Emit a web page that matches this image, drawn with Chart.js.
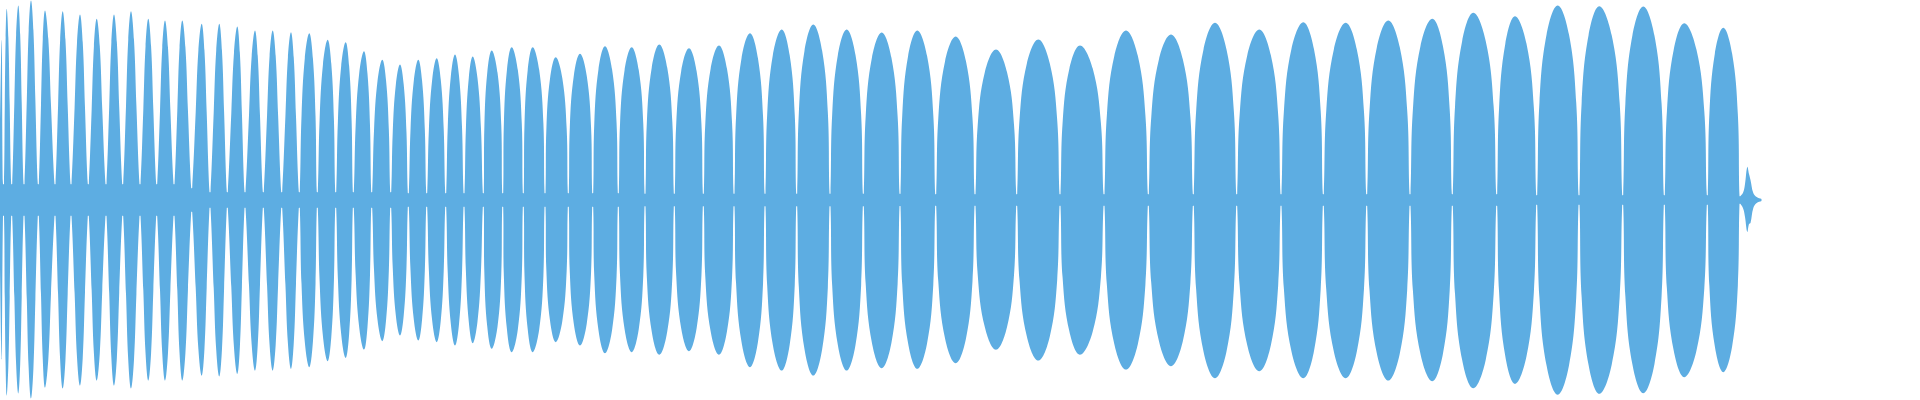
<!DOCTYPE html>
<html>
<head>
<meta charset="utf-8">
<script src="https://cdn.jsdelivr.net/npm/chart.js@4.4.0/dist/chart.umd.min.js"></script>
<style>
  html, body { margin: 0; padding: 0; background: #ffffff; }
  #wrap { width: 1920px; height: 400px; }
</style>
</head>
<body>
<div id="wrap"><canvas id="c" width="1920" height="400"></canvas></div>
<script>
// Time axis positions (arbitrary units, 0..1920) of each lobe peak
const peakX = [1.7, 6.7, 18.3, 31, 45, 62.7, 80, 96.7, 114, 131, 148.3, 165, 182.3,
  201.7, 219.3, 237.3, 255, 272.7, 291, 309.3, 327.7, 345.7, 364, 382.3,
  400, 418.3, 436.7, 455, 472.7, 491.7, 511.7, 532.7, 555.7, 580, 605, 631.7,
  659.3, 689, 719, 750, 781.7, 813.3, 846.7, 881.7,
  917.3, 955.7, 996, 1038.3, 1080, 1126, 1171,
  1215, 1259.3, 1303.3, 1345.7, 1388.3, 1432.3, 1473.3,
  1515, 1557.7, 1599.3, 1643.3, 1684.3, 1723.3];

// Positive peak amplitude (% of full scale) of each lobe
const peakUp = [79.8, 95.6, 97.3, 99.8, 94.8, 94.4, 92.8, 90.6, 92.8, 94.4, 90.6, 89.8, 89.8,
  88.1, 88.1, 86.8, 84.8, 84.8, 83.9, 83.4, 80.1, 78.9, 74.4, 70.1,
  67.8, 70.1, 70.9, 72.8, 71.8, 74.8, 76.4, 76.4, 71.4, 73.1, 76.9, 76.4,
  77.8, 75.9, 77.3, 83.4, 85.3, 87.8, 85.3, 83.8,
  84.8, 81.8, 75.3, 80.3, 77.3, 84.8, 82.8,
  88.6, 85.3, 88.9, 88.6, 89.8, 90.6, 93.6,
  91.9, 97.3, 96.9, 96.8, 88.4, 86.1];

// Negative peak amplitude (% of full scale, magnitude) of each lobe
const peakDown = [79.3, 97.8, 96.8, 99.3, 93.8, 94.3, 92.8, 90.3, 92.8, 94.3, 90.3, 90.3, 90.3,
  87.8, 88.3, 86.9, 85.3, 85.3, 84.4, 83.6, 80.6, 78.9, 74.8, 70.6,
  67.8, 70.3, 71.1, 72.8, 71.6, 74.4, 76.1, 76.1, 71.1, 72.8, 76.6, 76.1,
  77.4, 75.6, 77.4, 83.6, 85.3, 87.8, 85.3, 84.1,
  84.4, 81.6, 74.9, 80.3, 77.4, 84.8, 83.1,
  89.1, 85.6, 89.1, 89.1, 90.3, 90.6, 94.1,
  91.9, 97.4, 96.9, 96.6, 88.6, 86.1];

// Zero-crossing (waist) positions between lobes, and the residual amplitude there
const waistX = [3.5, 11.7, 24, 38.3, 55, 71, 88.3, 106, 122.7, 140, 156.7, 174, 191.7,
  210, 227.3, 245, 263.3, 281.7, 299.3, 317.3, 335.7, 353.3, 371.7, 390.7,
  408.3, 426.7, 445.7, 464, 483.3, 502.7, 523.3, 545, 568.3, 592.7, 618.3,
  645, 674.3, 703.3, 734, 765, 796.7, 830, 863.3, 900,
  935.7, 975, 1016.7, 1060, 1104, 1148.3, 1193.3,
  1236.7, 1281, 1323.3, 1366.7, 1410, 1452.3, 1496.7,
  1536.7, 1579, 1622.7, 1664.3, 1707.3, 1740];
const waistAmp = [8, 8, 8, 8, 8, 8, 8, 8, 8, 8, 8, 8, 6,
  4, 4, 4, 4, 4, 4, 4, 4, 4, 4, 4,
  3.5, 3.5, 3.5, 3.5, 3.5, 3.5, 3.5, 3.5, 3.5, 3.5, 3.5,
  3.3, 3.3, 3.3, 3.3, 3.3, 3.3, 3.3, 3.3, 3.2,
  3, 3, 3, 3, 3, 3, 3,
  3, 3, 3, 3, 3, 3, 3,
  2.5, 2.5, 2.5, 2.5, 2.5, 2];

// Start of the signal and the short decaying burst at the end
const startAmp = 34;
const tailX    = [1743.3, 1745, 1747.3, 1749, 1750.5, 1753.3, 1756.7, 1761.7];
const tailUp   = [4, 8, 16.5, 13, 10, 3.5, 1.5, 0.5];
const tailDown = [4.5, 8.5, 16, 12, 11.5, 4, 1.5, 0.5];

// Lobe outline: lobe width (share of its half-span) at two heights of the lobe,
// for the narrow lobes on the left, the middle ones and the fuller lobes further right
const SHOULDERS = [
  { level: 0.85, width: [0.33, 0.45, 0.53] },
  { level: 0.5,  width: [0.60, 0.78, 0.87] }
];
function region(x) { return x < 300 ? 0 : (x < 480 ? 1 : 2); }

function buildSeries(peaks, tail, sign) {
  const pts = [{ x: 0, y: sign * startAmp }];
  for (let i = 0; i < peakX.length; i++) {
    const p = peakX[i], a = peaks[i], r = region(p);
    if (i > 0) {
      const wl = waistX[i - 1];
      for (let k = SHOULDERS.length - 1; k >= 0; k--) {
        const s = SHOULDERS[k];
        pts.push({ x: p - s.width[r] * (p - wl), y: sign * a * s.level });
      }
    }
    pts.push({ x: p, y: sign * a });
    const wr = waistX[i];
    if (i > 0) {
      for (let k = 0; k < SHOULDERS.length; k++) {
        const s = SHOULDERS[k];
        pts.push({ x: p + s.width[r] * (wr - p), y: sign * a * s.level });
      }
    }
    pts.push({ x: wr - 0.5, y: sign * waistAmp[i] });
    pts.push({ x: wr + 0.5, y: sign * waistAmp[i] });
  }
  for (let j = 0; j < tailX.length; j++) pts.push({ x: tailX[j], y: sign * tail[j] });
  return pts;
}

const COLOR = '#5dade2';

new Chart(document.getElementById('c'), {
  type: 'line',
  data: {
    datasets: [
      { data: buildSeries(peakUp, tailUp, 1), fill: 'origin', backgroundColor: COLOR,
        borderColor: COLOR, borderWidth: 0, pointRadius: 0, tension: 0.4 },
      { data: buildSeries(peakDown, tailDown, -1), fill: 'origin', backgroundColor: COLOR,
        borderColor: COLOR, borderWidth: 0, pointRadius: 0, tension: 0.4 }
    ]
  },
  options: {
    responsive: false,
    animation: false,
    layout: { padding: 0 },
    plugins: { legend: { display: false }, tooltip: { enabled: false } },
    scales: {
      x: { type: 'linear', min: 0, max: 1920, display: false },
      y: { min: -100, max: 100, display: false }
    }
  }
});
</script>
</body>
</html>
